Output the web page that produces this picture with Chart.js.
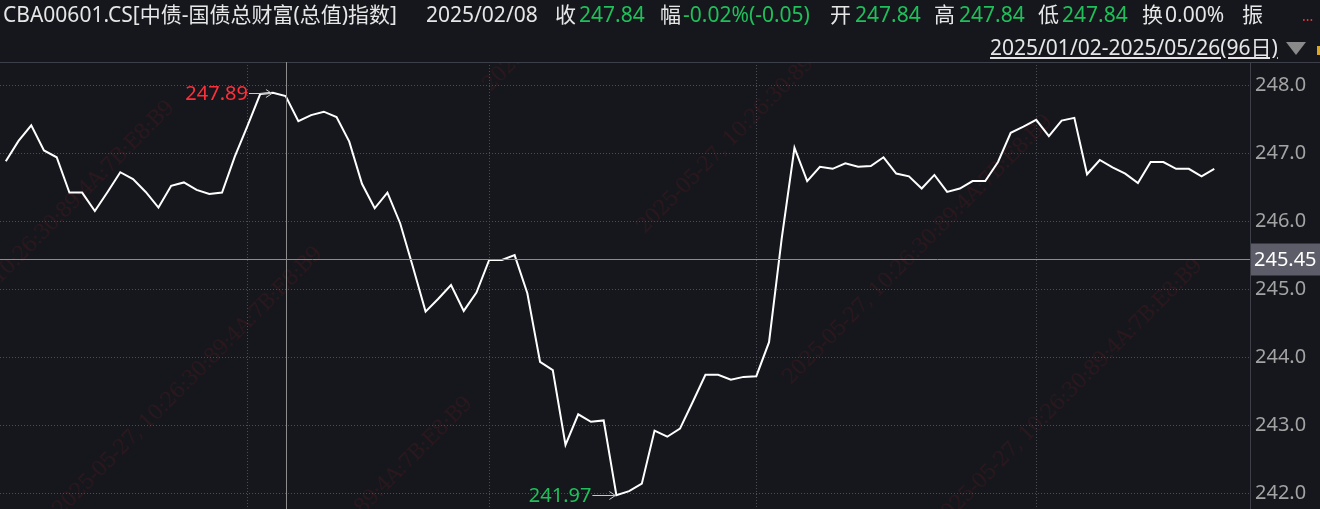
<!DOCTYPE html>
<html>
<head>
<meta charset="utf-8">
<script src="https://cdn.jsdelivr.net/npm/chart.js@4.4.1/dist/chart.umd.min.js"></script>
<style>
html, body { margin: 0; padding: 0; background: #15171c; overflow: hidden; }
#wrap { position: relative; width: 1320px; height: 509px; }
#marks { position: absolute; left: 0; top: 62px; width: 1250px; height: 447px; overflow: hidden; }
.wm { position: absolute; font: 21px "DejaVu Serif", serif; line-height: 21px; color: #2a181c;
      white-space: nowrap; transform-origin: 0 100%; transform: rotate(-45deg); letter-spacing: -1px; }
canvas { position: absolute; left: 0; top: 0; }
.hd { position: absolute; top: 4px; font: 21px "Noto Sans", "Noto Sans CJK SC", sans-serif; line-height: 21px;
      color: #e6e6e6; white-space: nowrap; }
.g { color: #1fc05a; }
#range { top: 37px; text-decoration: underline; text-underline-offset: 2px; }
#tri { position: absolute; left: 1286px; top: 42px; width: 0; height: 0;
       border-left: 10px solid transparent; border-right: 10px solid transparent; border-top: 13px solid #8a8a8a; }
#dots { position: absolute; left: 1302px; top: 6px; font: 14px "Noto Sans", sans-serif; color: #ff3030; }
#flag { position: absolute; left: 1317px; top: 46px; width: 3px; height: 9px; background: #d9a628; }
</style>
</head>
<body>
<div id="wrap">
  <div id="marks">
    <span class="wm" style="left:647px;top:154px">2025-05-27, 10:26:30:89:4A:7B:E8:B9</span>
    <span class="wm" style="left:793px;top:305px">2025-05-27, 10:26:30:89:4A:7B:E8:B9</span>
    <span class="wm" style="left:-85px;top:291px">2025-05-27, 10:26:30:89:4A:7B:E8:B9</span>
    <span class="wm" style="left:213px;top:587px">2025-05-27, 10:26:30:89:4A:7B:E8:B9</span>
    <span class="wm" style="left:63px;top:437px">2025-05-27, 10:26:30:89:4A:7B:E8:B9</span>
    <span class="wm" style="left:943px;top:449px">2025-05-27, 10:26:30:89:4A:7B:E8:B9</span>
    <span class="wm" style="left:493px;top:12px">2025-05-27, 10:26:30:89:4A:7B:E8:B9</span>
  </div>
  <canvas id="chart" width="1320" height="509"></canvas>

  <span class="hd" style="left:3px">CBA00601.CS[中债-国债总财富(总值)指数]</span>
  <span class="hd" style="left:426px">2025/02/08</span>
  <span class="hd" style="left:555px">收</span><span class="hd g" style="left:579px">247.84</span>
  <span class="hd" style="left:660px">幅</span><span class="hd g" style="left:683px">-0.02%(-0.05)</span>
  <span class="hd" style="left:830px">开</span><span class="hd g" style="left:855px">247.84</span>
  <span class="hd" style="left:934px">高</span><span class="hd g" style="left:959px">247.84</span>
  <span class="hd" style="left:1038px">低</span><span class="hd g" style="left:1062px">247.84</span>
  <span class="hd" style="left:1142px">换</span><span class="hd" style="left:1165px">0.00%</span>
  <span class="hd" style="left:1242px">振</span>
  <span id="dots">...</span>
  <span class="hd" id="range" style="left:990px">2025/01/02-2025/05/26(96日)</span>
  <div id="tri"></div>
  <div id="flag"></div>
</div>

<script>
// 交易日 (2025)
const dates = [
  '01/02','01/03','01/06','01/07','01/08','01/09','01/10','01/13','01/14','01/15',
  '01/16','01/17','01/20','01/21','01/22','01/23','01/24','01/26','01/27',
  '02/05','02/06','02/07','02/08','02/10','02/11','02/12','02/13','02/14','02/17',
  '02/18','02/19','02/20','02/21','02/24','02/25','02/26','02/27','02/28',
  '03/03','03/04','03/05','03/06','03/07','03/10','03/11','03/12','03/13','03/14',
  '03/17','03/18','03/19','03/20','03/21','03/24','03/25','03/26','03/27','03/28','03/31',
  '04/01','04/02','04/03','04/07','04/08','04/09','04/10','04/11','04/14','04/15',
  '04/16','04/17','04/18','04/21','04/22','04/23','04/24','04/25','04/27','04/28','04/29','04/30',
  '05/06','05/07','05/08','05/09','05/12','05/13','05/14','05/15','05/16',
  '05/19','05/20','05/21','05/22','05/23','05/26'
];

// 收盘值
const closeValues = [
  246.88, 247.18, 247.41, 247.04, 246.94, 246.42, 246.42, 246.15, 246.43, 246.72,
  246.62, 246.43, 246.20, 246.52, 246.57, 246.46, 246.40, 246.42, 246.95,
  247.40, 247.87, 247.89, 247.84, 247.47, 247.56, 247.61, 247.53, 247.17, 246.55,
  246.19, 246.42, 245.97, 245.33, 244.67, 244.86, 245.06, 244.68, 244.95,
  245.43, 245.43, 245.50, 244.94, 243.93, 243.81, 242.71, 243.16, 243.05, 243.07,
  241.97, 242.03, 242.14, 242.92, 242.83, 242.95, 243.34, 243.74, 243.74, 243.67, 243.71,
  243.72, 244.22, 245.75, 247.08, 246.59, 246.80, 246.77, 246.85, 246.80, 246.81,
  246.94, 246.70, 246.66, 246.48, 246.68, 246.43, 246.48, 246.59, 246.59, 246.87, 247.30, 247.39,
  247.49, 247.25, 247.48, 247.52, 246.69, 246.90, 246.79, 246.70, 246.56,
  246.87, 246.87, 246.77, 246.77, 246.66, 246.77
];

const yTicks = [242, 243, 244, 245, 246, 247, 248];

// 十字光标
const cursorDate = '02/08';
const cursorValue = 245.45;

const cursorIndex = dates.indexOf(cursorDate);
const monthStarts = dates.map((d, i) => i).filter(i => i > 0 && dates[i].slice(0, 2) !== dates[i - 1].slice(0, 2));

const overlay = {
  id: 'overlay',
  afterDraw(chart) {
    const { ctx, chartArea: a, scales: { x, y } } = chart;
    ctx.save();

    // 顶部分隔线
    ctx.strokeStyle = '#3d4048';
    ctx.lineWidth = 1;
    ctx.beginPath();
    ctx.moveTo(0, a.top + 0.5);
    ctx.lineTo(chart.width, a.top + 0.5);
    ctx.stroke();

    // 十字线
    const cx = Math.round(x.getPixelForValue(cursorIndex)) + 0.5;
    const cy = Math.round(y.getPixelForValue(cursorValue)) + 0.5;
    ctx.strokeStyle = '#8c8c8c';
    ctx.beginPath();
    ctx.moveTo(cx, a.top);
    ctx.lineTo(cx, a.bottom);
    ctx.moveTo(a.left, cy);
    ctx.lineTo(a.right, cy);
    ctx.stroke();

    ctx.fillStyle = '#5c5d68';
    ctx.fillRect(a.right + 1, cy - 16, chart.width - a.right - 1, 32);
    ctx.fillStyle = '#ffffff';
    ctx.font = '20px "Noto Sans"';
    ctx.textAlign = 'left';
    ctx.textBaseline = 'middle';
    ctx.fillText(cursorValue.toFixed(2), a.right + 4, cy + 1);

    // 最高 / 最低标记
    const marker = (i, color) => {
      const px = x.getPixelForValue(i);
      const py = Math.round(y.getPixelForValue(closeValues[i])) + 0.5;
      ctx.strokeStyle = '#c8c8c8';
      ctx.beginPath();
      ctx.moveTo(px - 24, py);
      ctx.lineTo(px - 1, py);
      ctx.moveTo(px - 7, py - 4);
      ctx.lineTo(px - 1, py);
      ctx.lineTo(px - 7, py + 4);
      ctx.stroke();
      ctx.fillStyle = color;
      ctx.textAlign = 'right';
      ctx.fillText(closeValues[i].toFixed(2), px - 25, py + 1);
    };
    const maxI = closeValues.indexOf(Math.max(...closeValues));
    const minI = closeValues.indexOf(Math.min(...closeValues));
    marker(maxI, '#ff2f3a');
    marker(minI, '#1fc05a');

    ctx.restore();
  }
};

const ctx = document.getElementById('chart').getContext('2d');
new Chart(ctx, {
  type: 'line',
  data: {
    datasets: [{
      data: closeValues.map((v, i) => ({ x: i, y: v })),
      borderColor: '#ffffff',
      borderWidth: 2,
      pointRadius: 0,
      tension: 0,
      fill: false
    }]
  },
  options: {
    responsive: false,
    animation: false,
    events: [],
    layout: { padding: { top: 62, left: 0, right: 0, bottom: 0 } },
    plugins: { legend: { display: false }, tooltip: { enabled: false } },
    scales: {
      x: {
        type: 'linear',
        min: -0.456,
        max: 97.81,
        afterBuildTicks: s => { s.ticks = monthStarts.map(v => ({ value: v })); },
        afterFit: s => { s.height = 0; s.paddingLeft = 0; s.paddingRight = 0; },
        ticks: { display: false },
        grid: { color: '#4a4d55', drawTicks: false },
        border: { display: false, dash: [1, 2] }
      },
      y: {
        position: 'right',
        min: 241.767,
        max: 248.341,
        afterBuildTicks: s => { s.ticks = yTicks.map(v => ({ value: v })); },
        afterFit: s => { s.width = 70; s.paddingTop = 0; s.paddingBottom = 0; },
        ticks: {
          color: '#a3a3a3',
          font: { family: 'Noto Sans', size: 20 },
          padding: 5,
          callback: v => v.toFixed(1)
        },
        grid: { color: '#4a4d55', drawTicks: false },
        border: { display: true, color: '#3d4048', dash: [1, 2] }
      }
    }
  },
  plugins: [overlay]
});
</script>
</body>
</html>
